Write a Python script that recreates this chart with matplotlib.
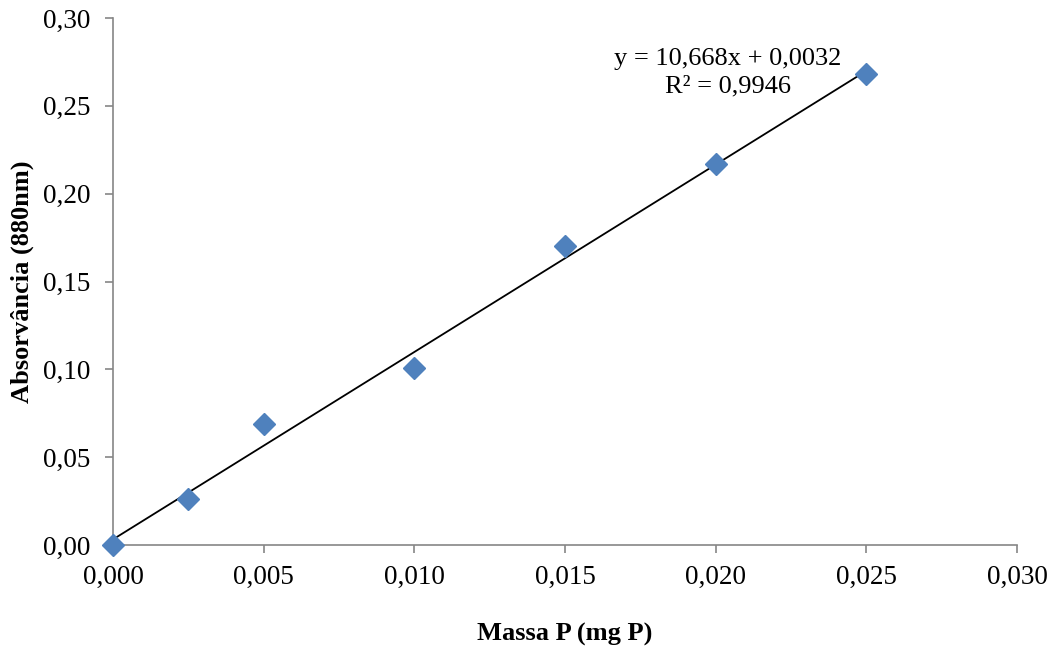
import matplotlib.pyplot as plt
import numpy as np
from matplotlib.ticker import FuncFormatter

massa = [0.0, 0.0025, 0.005, 0.010, 0.015, 0.020, 0.025]
absorbancia = [0.0, 0.026, 0.069, 0.101, 0.170, 0.217, 0.268]
slope = 10.668
intercept = 0.0032
equation = "y = 10,668x + 0,0032\nR² = 0,9946"


def main():
    plt.rcParams['font.family'] = ['Liberation Serif', 'DejaVu Serif']
    fig = plt.figure(figsize=(10.53, 6.55), dpi=100)
    ax = fig.add_axes([0.1073, 0.1679, 0.8585, 0.8046])

    xs = np.array([massa[0], massa[-1]])
    ax.plot(xs, slope * xs + intercept, color='black', lw=1.3, zorder=2)
    ax.plot(massa, absorbancia, ls='none', marker='D', ms=11,
            color='#4F81BD', mec='#4F81BD', zorder=3, clip_on=False)

    ax.set_xlim(0, 0.030)
    ax.set_ylim(0, 0.30)
    ax.set_xticks(np.arange(0, 0.0301, 0.005))
    ax.set_yticks(np.arange(0, 0.301, 0.05))
    ax.xaxis.set_major_formatter(FuncFormatter(lambda v, p: f"{v:.3f}".replace('.', ',')))
    ax.yaxis.set_major_formatter(FuncFormatter(lambda v, p: f"{v:.2f}".replace('.', ',')))

    for side in ['top', 'right']:
        ax.spines[side].set_visible(False)
    for side in ['left', 'bottom']:
        ax.spines[side].set_color('#868686')
        ax.spines[side].set_linewidth(1.2)
    ax.tick_params(direction='out', length=6, width=1.2, color='#868686',
                   labelsize=19.5)
    ax.tick_params(axis='x', pad=8)
    ax.tick_params(axis='y', pad=10)

    ax.set_xlabel('Massa P (mg P)', fontsize=19, fontweight='bold', labelpad=24)
    ax.set_ylabel('Absorvância (880nm)', fontsize=19, fontweight='bold', labelpad=7)

    ax.text(0.0204, 0.2687, equation, fontsize=19, ha='center', va='center',
            linespacing=1.3, multialignment='center')

    fig.savefig('out.png', dpi=100)


if __name__ == '__main__':
    main()
